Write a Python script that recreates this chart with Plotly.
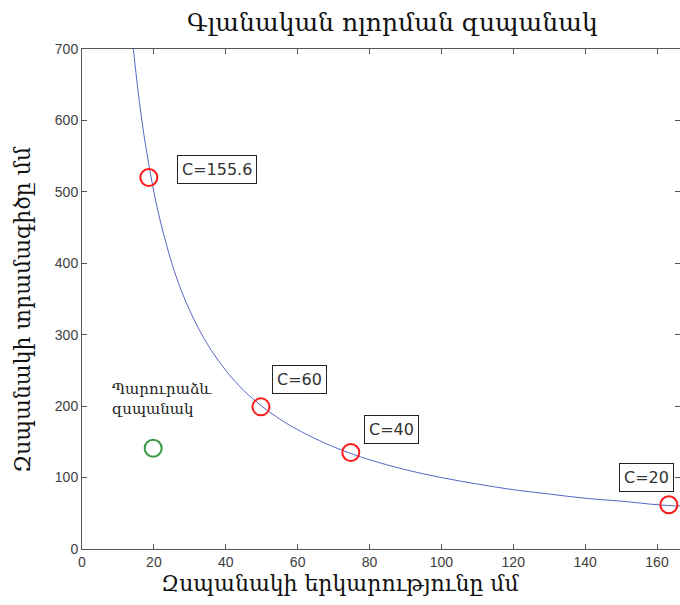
import plotly.graph_objects as go

# Curve
curve_len = [14.3, 15, 16, 17, 18, 20, 22, 25, 28, 32, 36, 40, 45, 50, 55, 60, 70, 80, 90, 100, 110, 120, 130, 140, 150, 160, 166.5]
curve_dia = [700, 667, 625, 588, 556, 500, 455, 400, 357, 313, 278, 250, 222, 200, 182, 167, 143, 125, 111, 100, 91, 83, 77, 71, 67, 62, 60]

# Marked springs
red_len = [18.6, 49.8, 74.8, 163.3]
red_dia = [520, 199, 135, 62]
red_labels = ["C=155.6", "C=60", "C=40", "C=20"]
label_x = [37.6, 60.4, 86.0, 157.2]
label_y = [531, 237, 167, 100]

green_len = [19.8]
green_dia = [141]
green_label = "Պարուրաձև<br>զսպանակ"

title = "Գլանական ոլորման զսպանակ"
x_title = "Զսպանակի երկարությունը մմ"
y_title = "Զսպանակի տրամագիծը մմ"

serif = "DejaVu Serif"
sans = "Liberation Sans, Arial"

fig = go.Figure()
fig.add_trace(go.Scatter(x=curve_len, y=curve_dia, mode="lines", line=dict(color="#5566c6", width=1, shape="spline"),
                         hoverinfo="skip", showlegend=False))
fig.add_trace(go.Scatter(x=red_len, y=red_dia, mode="markers",
                         marker=dict(symbol="circle-open", size=17, color="#ff1a1a", line=dict(width=2)),
                         showlegend=False))
fig.add_trace(go.Scatter(x=green_len, y=green_dia, mode="markers",
                         marker=dict(symbol="circle-open", size=17, color="#3a9a4a", line=dict(width=2)),
                         showlegend=False))

for t, x, y in zip(red_labels, label_x, label_y):
    fig.add_annotation(x=x, y=y, text=t, showarrow=False, font=dict(family="DejaVu Sans", size=16, color="#333"),
                       bordercolor="#222", borderwidth=1, borderpad=4, bgcolor="white")

fig.add_annotation(x=7.8, y=239, text=green_label, showarrow=False, xanchor="left", yanchor="top", align="left",
                   font=dict(family=serif, size=15, color="#222"))

fig.add_annotation(xref="paper", yref="paper", x=0.433, y=-0.068, text=x_title, showarrow=False,
                   xanchor="center", yanchor="middle", font=dict(family=serif, size=22, color="#111"))
fig.add_annotation(xref="paper", yref="paper", x=-0.1003, y=0.478, text=y_title, showarrow=False, textangle=-90,
                   xanchor="center", yanchor="middle", font=dict(family=serif, size=22, color="#111"))

axis_common = dict(showline=True, linecolor="#555", linewidth=1, mirror="ticks", ticks="inside", ticklen=5,
                   tickcolor="#555", showgrid=False, zeroline=False,
                   tickfont=dict(family=sans, size=14, color="#404040"))

fig.update_layout(
    width=680, height=605,
    margin=dict(l=82, r=0, t=49, b=56),
    paper_bgcolor="white", plot_bgcolor="white",
    title=dict(text=title, x=0.577, xanchor="center", y=0.963, yanchor="middle",
               font=dict(family=serif, size=25, color="#111")),
    xaxis=dict(range=[0, 166.4], dtick=20, **axis_common),
    yaxis=dict(range=[0, 700], dtick=100, **axis_common),
)

fig.write_html("out.html")
